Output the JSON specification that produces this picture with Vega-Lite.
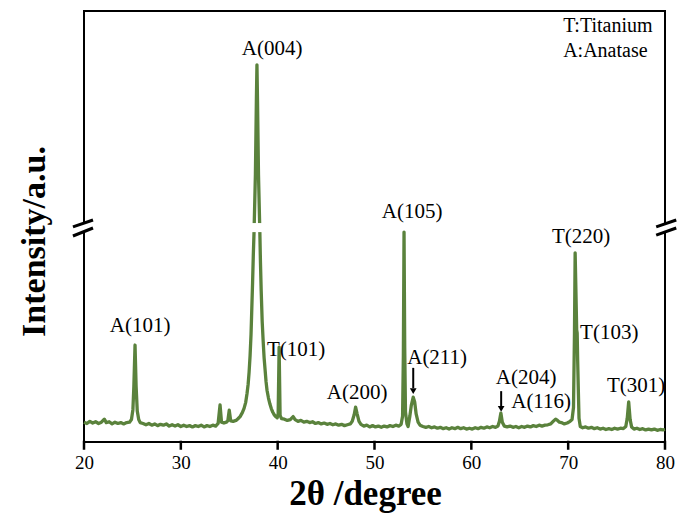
{
  "$schema": "https://vega.github.io/schema/vega-lite/v6.json",
  "width": 581,
  "height": 431,
  "autosize": {"type": "none"},
  "padding": {"left": 84, "top": 11, "right": 13, "bottom": 75},
  "background": "white",
  "config": {
    "view": {"stroke": "black", "strokeWidth": 2},
    "font": "Liberation Serif",
    "axisX": {
      "domain": false, "grid": false, "labelFlush": false, "ticks": false,
      "labelFont": "Liberation Serif", "labelFontSize": 19, "labelColor": "black", "labelPadding": 11,
      "titleFont": "Liberation Serif", "titleFontSize": 35, "titleFontWeight": "bold", "titleColor": "black", "titlePadding": 4, "titleX": 281
    },
    "axisY": {
      "domain": false, "grid": false, "ticks": false, "labels": false,
      "titleFont": "Liberation Serif", "titleFontSize": 34, "titleFontWeight": "bold", "titleColor": "black", "titleX": -33, "titleY": 230
    }
  },
  "datasets": {
    "spectrum": [
      {"t": 20.0, "i": 4.6}, {"t": 20.3, "i": 4.3}, {"t": 20.6, "i": 4.8}, {"t": 20.9, "i": 4.4}, {"t": 21.2, "i": 4.7}, {"t": 21.5, "i": 4.3}, {"t": 21.8, "i": 4.6}, {"t": 22.1, "i": 5.3}, {"t": 22.3, "i": 4.5}, {"t": 22.6, "i": 4.7}, {"t": 22.9, "i": 4.2}, {"t": 23.2, "i": 4.6}, {"t": 23.5, "i": 4.3}, {"t": 23.8, "i": 4.5}, {"t": 24.1, "i": 4.2}, {"t": 24.4, "i": 4.5}, {"t": 24.7, "i": 4.6}, {"t": 24.9, "i": 5.2}, {"t": 25.05, "i": 7.5}, {"t": 25.15, "i": 13}, {"t": 25.27, "i": 22.5}, {"t": 25.38, "i": 13}, {"t": 25.5, "i": 7.2}, {"t": 25.65, "i": 5.2}, {"t": 25.8, "i": 4.5}, {"t": 26.1, "i": 4.3}, {"t": 26.4, "i": 4.0}, {"t": 26.7, "i": 4.3}, {"t": 27.0, "i": 3.9}, {"t": 27.3, "i": 4.2}, {"t": 27.6, "i": 3.8}, {"t": 27.9, "i": 4.1}, {"t": 28.2, "i": 3.9}, {"t": 28.5, "i": 4.2}, {"t": 28.8, "i": 3.7}, {"t": 29.1, "i": 4.0}, {"t": 29.4, "i": 3.7}, {"t": 29.7, "i": 4.0}, {"t": 30.0, "i": 3.6}, {"t": 30.3, "i": 3.9}, {"t": 30.6, "i": 3.6}, {"t": 30.9, "i": 3.8}, {"t": 31.2, "i": 3.5}, {"t": 31.5, "i": 3.8}, {"t": 31.8, "i": 3.6}, {"t": 32.1, "i": 3.9}, {"t": 32.4, "i": 3.5}, {"t": 32.7, "i": 3.8}, {"t": 33.0, "i": 3.6}, {"t": 33.3, "i": 3.9}, {"t": 33.6, "i": 3.7}, {"t": 33.85, "i": 4.3}, {"t": 34.05, "i": 8.6}, {"t": 34.2, "i": 4.6}, {"t": 34.45, "i": 4.4}, {"t": 34.7, "i": 4.6}, {"t": 34.85, "i": 4.9}, {"t": 35.0, "i": 7.4}, {"t": 35.15, "i": 4.9}, {"t": 35.4, "i": 4.8}, {"t": 35.7, "i": 5.0}, {"t": 35.9, "i": 5.4}, {"t": 36.12, "i": 5.9}, {"t": 36.35, "i": 6.8}, {"t": 36.53, "i": 7.8}, {"t": 36.7, "i": 9.2}, {"t": 36.84, "i": 11.3}, {"t": 36.95, "i": 13.4}, {"t": 37.05, "i": 16.2}, {"t": 37.15, "i": 20}, {"t": 37.25, "i": 25}, {"t": 37.33, "i": 31}, {"t": 37.41, "i": 37}, {"t": 37.48, "i": 43}, {"t": 37.56, "i": 48.7}, {"t": 37.7, "i": 62}, {"t": 37.8, "i": 79}, {"t": 37.86, "i": 87.5}, {"t": 37.92, "i": 79}, {"t": 38.02, "i": 62}, {"t": 38.16, "i": 48.7}, {"t": 38.22, "i": 42}, {"t": 38.3, "i": 35}, {"t": 38.4, "i": 28}, {"t": 38.5, "i": 23.5}, {"t": 38.6, "i": 19.5}, {"t": 38.7, "i": 16.8}, {"t": 38.8, "i": 14}, {"t": 38.9, "i": 12}, {"t": 39.05, "i": 10.2}, {"t": 39.2, "i": 8.8}, {"t": 39.35, "i": 7.7}, {"t": 39.5, "i": 6.9}, {"t": 39.65, "i": 6.3}, {"t": 39.8, "i": 5.9}, {"t": 39.95, "i": 5.6}, {"t": 40.05, "i": 6.5}, {"t": 40.15, "i": 22.0}, {"t": 40.25, "i": 6.2}, {"t": 40.4, "i": 5.4}, {"t": 40.7, "i": 5.3}, {"t": 41.0, "i": 5.0}, {"t": 41.3, "i": 5.2}, {"t": 41.6, "i": 5.9}, {"t": 41.8, "i": 5.2}, {"t": 42.1, "i": 4.8}, {"t": 42.4, "i": 5.0}, {"t": 42.7, "i": 4.6}, {"t": 43.0, "i": 4.8}, {"t": 43.3, "i": 4.5}, {"t": 43.6, "i": 4.7}, {"t": 43.9, "i": 4.3}, {"t": 44.2, "i": 4.5}, {"t": 44.5, "i": 4.2}, {"t": 44.8, "i": 4.4}, {"t": 45.1, "i": 4.1}, {"t": 45.4, "i": 4.3}, {"t": 45.7, "i": 4.0}, {"t": 46.0, "i": 4.2}, {"t": 46.3, "i": 3.9}, {"t": 46.6, "i": 4.1}, {"t": 46.9, "i": 3.8}, {"t": 47.2, "i": 4.0}, {"t": 47.5, "i": 4.2}, {"t": 47.7, "i": 4.8}, {"t": 47.9, "i": 6.3}, {"t": 48.05, "i": 8.1}, {"t": 48.2, "i": 6.6}, {"t": 48.4, "i": 4.8}, {"t": 48.6, "i": 4.1}, {"t": 48.9, "i": 3.7}, {"t": 49.2, "i": 3.9}, {"t": 49.5, "i": 3.5}, {"t": 49.8, "i": 3.8}, {"t": 50.1, "i": 3.5}, {"t": 50.4, "i": 3.7}, {"t": 50.7, "i": 3.4}, {"t": 51.0, "i": 3.7}, {"t": 51.3, "i": 3.5}, {"t": 51.6, "i": 3.8}, {"t": 51.9, "i": 3.6}, {"t": 52.2, "i": 3.9}, {"t": 52.5, "i": 3.7}, {"t": 52.75, "i": 4.1}, {"t": 52.9, "i": 6}, {"t": 52.98, "i": 20}, {"t": 53.05, "i": 48.7}, {"t": 53.12, "i": 22}, {"t": 53.2, "i": 7}, {"t": 53.35, "i": 4.2}, {"t": 53.47, "i": 3.6}, {"t": 53.65, "i": 6.0}, {"t": 53.8, "i": 8.5}, {"t": 54.0, "i": 10.4}, {"t": 54.15, "i": 9.3}, {"t": 54.3, "i": 6.5}, {"t": 54.5, "i": 4.6}, {"t": 54.7, "i": 3.9}, {"t": 55.0, "i": 3.6}, {"t": 55.3, "i": 3.4}, {"t": 55.6, "i": 3.6}, {"t": 55.9, "i": 3.3}, {"t": 56.2, "i": 3.5}, {"t": 56.5, "i": 3.2}, {"t": 56.8, "i": 3.4}, {"t": 57.1, "i": 3.1}, {"t": 57.4, "i": 3.3}, {"t": 57.7, "i": 3.0}, {"t": 58.0, "i": 3.3}, {"t": 58.3, "i": 3.1}, {"t": 58.6, "i": 3.4}, {"t": 58.9, "i": 3.1}, {"t": 59.2, "i": 3.3}, {"t": 59.5, "i": 3.0}, {"t": 59.8, "i": 3.2}, {"t": 60.1, "i": 3.0}, {"t": 60.4, "i": 3.3}, {"t": 60.7, "i": 3.1}, {"t": 61.0, "i": 3.4}, {"t": 61.3, "i": 3.2}, {"t": 61.6, "i": 3.5}, {"t": 61.9, "i": 3.3}, {"t": 62.2, "i": 3.6}, {"t": 62.5, "i": 3.4}, {"t": 62.75, "i": 3.7}, {"t": 62.9, "i": 4.8}, {"t": 63.05, "i": 6.7}, {"t": 63.2, "i": 4.6}, {"t": 63.4, "i": 3.7}, {"t": 63.7, "i": 3.5}, {"t": 64.0, "i": 3.7}, {"t": 64.3, "i": 3.4}, {"t": 64.6, "i": 3.6}, {"t": 64.9, "i": 3.3}, {"t": 65.2, "i": 3.6}, {"t": 65.5, "i": 3.4}, {"t": 65.8, "i": 3.7}, {"t": 66.1, "i": 3.5}, {"t": 66.4, "i": 3.8}, {"t": 66.7, "i": 3.6}, {"t": 67.0, "i": 3.9}, {"t": 67.3, "i": 3.7}, {"t": 67.6, "i": 3.9}, {"t": 67.9, "i": 4.0}, {"t": 68.2, "i": 4.2}, {"t": 68.5, "i": 4.9}, {"t": 68.7, "i": 5.3}, {"t": 68.9, "i": 5.0}, {"t": 69.1, "i": 4.6}, {"t": 69.3, "i": 4.5}, {"t": 69.6, "i": 4.2}, {"t": 69.9, "i": 4.4}, {"t": 70.2, "i": 4.8}, {"t": 70.4, "i": 5.2}, {"t": 70.55, "i": 8}, {"t": 70.65, "i": 25}, {"t": 70.72, "i": 43.9}, {"t": 70.8, "i": 35}, {"t": 70.88, "i": 26}, {"t": 70.93, "i": 25.3}, {"t": 70.98, "i": 19}, {"t": 71.05, "i": 12}, {"t": 71.12, "i": 5.5}, {"t": 71.25, "i": 3.6}, {"t": 71.5, "i": 3.3}, {"t": 71.8, "i": 3.5}, {"t": 72.1, "i": 3.2}, {"t": 72.4, "i": 3.4}, {"t": 72.7, "i": 3.1}, {"t": 73.0, "i": 3.3}, {"t": 73.3, "i": 3.0}, {"t": 73.6, "i": 3.2}, {"t": 73.9, "i": 2.9}, {"t": 74.2, "i": 3.1}, {"t": 74.5, "i": 2.9}, {"t": 74.8, "i": 3.2}, {"t": 75.1, "i": 3.0}, {"t": 75.4, "i": 3.2}, {"t": 75.7, "i": 3.1}, {"t": 75.95, "i": 3.6}, {"t": 76.1, "i": 5.5}, {"t": 76.25, "i": 9.3}, {"t": 76.4, "i": 5.2}, {"t": 76.55, "i": 3.5}, {"t": 76.8, "i": 3.0}, {"t": 77.1, "i": 3.2}, {"t": 77.4, "i": 2.9}, {"t": 77.7, "i": 3.1}, {"t": 78.0, "i": 2.8}, {"t": 78.3, "i": 3.0}, {"t": 78.6, "i": 2.8}, {"t": 78.9, "i": 3.0}, {"t": 79.2, "i": 2.7}, {"t": 79.5, "i": 2.9}, {"t": 79.8, "i": 2.8}, {"t": 80.0, "i": 2.9}
    ],
    "tickmarks": [
      {"tx": 20, "ta": 0.3, "tb": -1.8}, {"tx": 30, "ta": 0.3, "tb": -1.8}, {"tx": 40, "ta": 0.3, "tb": -1.8}, {"tx": 50, "ta": 0.3, "tb": -1.8}, {"tx": 60, "ta": 0.3, "tb": -1.8}, {"tx": 70, "ta": 0.3, "tb": -1.8}, {"tx": 80, "ta": 0.3, "tb": -1.8}
    ],
    "gaps": [
      {"x1": 19.7, "x2": 20.3, "y1": 48.7, "y2": 50.7},
      {"x1": 37.3, "x2": 38.4, "y1": 48.7, "y2": 50.8},
      {"x1": 79.7, "x2": 80.3, "y1": 48.7, "y2": 50.6}
    ],
    "breaks": [
      {"x1": 18.86, "x2": 20.93, "y1": 49.9, "y2": 51.5},
      {"x1": 18.86, "x2": 20.93, "y1": 47.8, "y2": 49.65},
      {"x1": 79.09, "x2": 81.16, "y1": 49.9, "y2": 51.5},
      {"x1": 79.09, "x2": 81.16, "y1": 48.0, "y2": 49.65}
    ],
    "arrows": [
      {"x": 54.0, "y1": 17.2, "y2": 12.5},
      {"x": 63.08, "y1": 11.8, "y2": 8.3}
    ],
    "heads": [
      {"x": 54.0, "y": 11.8},
      {"x": 63.08, "y": 7.7}
    ],
    "labels": [
      {"x": 25.79, "y": 26.9, "label": "A(101)"},
      {"x": 39.42, "y": 91.2, "label": "A(004)"},
      {"x": 41.9, "y": 21.3, "label": "T(101)"},
      {"x": 48.2, "y": 11.4, "label": "A(200)"},
      {"x": 53.88, "y": 53.4, "label": "A(105)"},
      {"x": 56.47, "y": 19.5, "label": "A(211)"},
      {"x": 65.66, "y": 14.8, "label": "A(204)"},
      {"x": 67.21, "y": 9.3, "label": "A(116)"},
      {"x": 71.34, "y": 47.6, "label": "T(220)"},
      {"x": 74.24, "y": 25.3, "label": "T(103)"},
      {"x": 77.02, "y": 13.0, "label": "T(301)"}
    ],
    "legend": [
      {"x": 69.48, "y": 96.5, "label": "T:Titanium"},
      {"x": 69.48, "y": 90.7, "label": "A:Anatase"}
    ]
  },
  "layer": [
    {
      "data": {"name": "spectrum"},
      "mark": {"type": "line", "color": "#5a823c", "strokeWidth": 3.3, "strokeJoin": "round", "interpolate": "linear"},
      "encoding": {
        "x": {
          "field": "t", "type": "quantitative", "title": "2θ /degree",
          "scale": {"domain": [20, 80], "nice": false, "zero": false},
          "axis": {"values": [20, 30, 40, 50, 60, 70, 80]}
        },
        "y": {"field": "i", "type": "quantitative", "title": "Intensity/a.u.", "scale": {"domain": [0, 100], "nice": false}}
      }
    },
    {
      "data": {"name": "tickmarks"},
      "mark": {"type": "rule", "color": "#000000", "strokeWidth": 2.5, "clip": false},
      "encoding": {
        "x": {"field": "tx", "type": "quantitative", "title": "2θ /degree"},
        "y": {"field": "ta", "type": "quantitative", "title": "Intensity/a.u."},
        "y2": {"field": "tb"}
      }
    },
    {
      "data": {"name": "gaps"},
      "mark": {"type": "rect", "color": "white"},
      "encoding": {
        "x": {"field": "x1", "type": "quantitative", "title": "2θ /degree"},
        "x2": {"field": "x2"},
        "y": {"field": "y1", "type": "quantitative", "title": "Intensity/a.u."},
        "y2": {"field": "y2"}
      }
    },
    {
      "data": {"name": "breaks"},
      "mark": {"type": "rule", "color": "black", "strokeWidth": 3},
      "encoding": {
        "x": {"field": "x1", "type": "quantitative", "title": "2θ /degree"},
        "x2": {"field": "x2"},
        "y": {"field": "y1", "type": "quantitative", "title": "Intensity/a.u."},
        "y2": {"field": "y2"}
      }
    },
    {
      "data": {"name": "arrows"},
      "mark": {"type": "rule", "color": "black", "strokeWidth": 2},
      "encoding": {
        "x": {"field": "x", "type": "quantitative", "title": "2θ /degree"},
        "y": {"field": "y1", "type": "quantitative", "title": "Intensity/a.u."},
        "y2": {"field": "y2"}
      }
    },
    {
      "data": {"name": "heads"},
      "mark": {"type": "point", "shape": "triangle-down", "filled": true, "color": "black", "size": 45, "opacity": 1},
      "encoding": {
        "x": {"field": "x", "type": "quantitative", "title": "2θ /degree"},
        "y": {"field": "y", "type": "quantitative", "title": "Intensity/a.u."}
      }
    },
    {
      "data": {"name": "labels"},
      "mark": {"type": "text", "font": "Liberation Serif", "fontSize": 21, "color": "black", "baseline": "middle", "align": "center"},
      "encoding": {
        "x": {"field": "x", "type": "quantitative", "title": "2θ /degree"},
        "y": {"field": "y", "type": "quantitative", "title": "Intensity/a.u."},
        "text": {"field": "label"}
      }
    },
    {
      "data": {"name": "legend"},
      "mark": {"type": "text", "font": "Liberation Serif", "fontSize": 20, "color": "black", "baseline": "middle", "align": "left"},
      "encoding": {
        "x": {"field": "x", "type": "quantitative", "title": "2θ /degree"},
        "y": {"field": "y", "type": "quantitative", "title": "Intensity/a.u."},
        "text": {"field": "label"}
      }
    }
  ]
}
